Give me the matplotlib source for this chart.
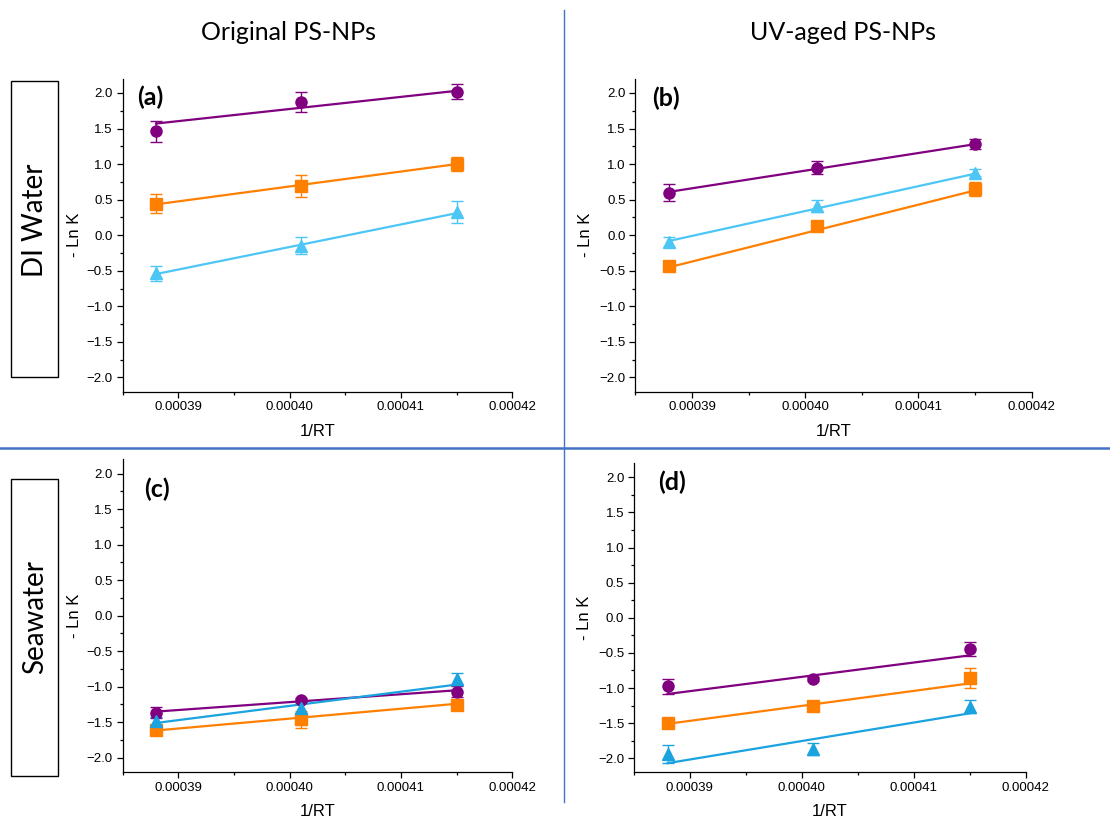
import matplotlib
matplotlib.use("Agg")
import matplotlib.pyplot as plt
from matplotlib.patches import Rectangle
from matplotlib.lines import Line2D
from matplotlib.ticker import MultipleLocator, FuncFormatter

plt.rcParams['font.family'] = ['Liberation Sans', 'DejaVu Sans']

# 1/RT values (310, 300, 290 K)
inv_rt = [0.000388, 0.000401, 0.000415]

col_titles = ['Original PS-NPs', 'UV-aged PS-NPs']
row_titles = ['DI Water', 'Seawater']
panel_tags = ['(a)', '(b)', '(c)', '(d)']

# (a) original, DI water
a_purple = [1.46, 1.87, 2.02]
a_purple_err = [0.145, 0.14, 0.10]
a_purple_fit = [1.57, 2.03]
a_orange = [0.443, 0.69, 1.00]
a_orange_err = [0.13, 0.15, 0.10]
a_orange_fit = [0.434, 1.00]
a_cyan = [-0.537, -0.145, 0.33]
a_cyan_err = [0.10, 0.12, 0.155]
a_cyan_fit = [-0.546, 0.31]

# (b) UV-aged, DI water
b_purple = [0.60, 0.95, 1.28]
b_purple_err = [0.12, 0.09, 0.07]
b_purple_fit = [0.61, 1.28]
b_orange = [-0.43, 0.13, 0.65]
b_orange_err = [0.03, 0.03, 0.105]
b_orange_fit = [-0.45, 0.63]
b_cyan = [-0.09, 0.41, 0.88]
b_cyan_err = [0.07, 0.08, 0.05]
b_cyan_fit = [-0.08, 0.865]

# (c) original, seawater
c_purple = [-1.363, -1.19, -1.07]
c_purple_err = [0.08, 0.03, 0.08]
c_purple_fit = [-1.35, -1.05]
c_orange = [-1.616, -1.46, -1.255]
c_orange_err = [0.065, 0.12, 0.07]
c_orange_fit = [-1.616, -1.24]
c_cyan = [-1.485, -1.30, -0.89]
c_cyan_err = [0.06, 0.07, 0.085]
c_cyan_fit = [-1.51, -0.97]

# (d) UV-aged, seawater
d_purple = [-0.976, -0.867, -0.45]
d_purple_err = [0.11, 0.03, 0.10]
d_purple_fit = [-1.085, -0.535]
d_orange = [-1.50, -1.256, -0.858]
d_orange_err = [0.066, 0.03, 0.14]
d_orange_fit = [-1.51, -0.934]
d_cyan = [-1.94, -1.867, -1.265]
d_cyan_err = [0.125, 0.09, 0.095]
d_cyan_fit = [-2.07, -1.36]

purple = '#800080'
orange = '#FF7F00'
cyan_light = '#4CC6F5'
cyan_dark = '#1AA3DE'

panels = [
    [(a_purple, a_purple_err, a_purple_fit, purple, 'o', 8),
     (a_orange, a_orange_err, a_orange_fit, orange, 's', 8),
     (a_cyan, a_cyan_err, a_cyan_fit, cyan_light, '^', 9)],
    [(b_purple, b_purple_err, b_purple_fit, purple, 'o', 8),
     (b_orange, b_orange_err, b_orange_fit, orange, 's', 8),
     (b_cyan, b_cyan_err, b_cyan_fit, cyan_light, '^', 9)],
    [(c_purple, c_purple_err, c_purple_fit, purple, 'o', 8),
     (c_orange, c_orange_err, c_orange_fit, orange, 's', 8),
     (c_cyan, c_cyan_err, c_cyan_fit, cyan_dark, '^', 9)],
    [(d_purple, d_purple_err, d_purple_fit, purple, 'o', 8),
     (d_orange, d_orange_err, d_orange_fit, orange, 's', 8),
     (d_cyan, d_cyan_err, d_cyan_fit, cyan_dark, '^', 9)],
]

fig = plt.figure(figsize=(11.1, 8.21), dpi=100)

rects = [[0.1105, 0.5229, 0.351, 0.3812],
         [0.5724, 0.5229, 0.3571, 0.3812],
         [0.1105, 0.0597, 0.351, 0.3808],
         [0.5711, 0.0593, 0.353, 0.3764]]
tag_pos = [(0.072, 0.94), (0.078, 0.939), (0.087, 0.904), (0.0975, 0.9385)]
ylab_x = [-0.105, -0.108, -0.105, -0.108]

for i, series in enumerate(panels):
    ax = fig.add_axes(rects[i])
    for y, err, fit, col, mk, ms in series:
        ax.plot([inv_rt[0], inv_rt[-1]], fit, color=col, lw=1.6, zorder=2)
        ax.errorbar(inv_rt, y, yerr=err, fmt=mk, color=col, ms=ms,
                    capsize=4.5, elinewidth=1, capthick=1, zorder=3)
    ax.set_xlim(0.000385, 0.00042)
    ax.set_ylim(-2.2, 2.2)
    ax.xaxis.set_major_locator(MultipleLocator(1e-5))
    ax.xaxis.set_minor_locator(MultipleLocator(5e-6))
    ax.xaxis.set_major_formatter(FuncFormatter(lambda v, p: f'{v:.5f}'))
    ax.yaxis.set_major_locator(MultipleLocator(0.5))
    ax.yaxis.set_minor_locator(MultipleLocator(0.25))
    for s in ['top', 'right']:
        ax.spines[s].set_visible(False)
    for s in ['left', 'bottom']:
        ax.spines[s].set_linewidth(0.9)
    ax.tick_params(which='major', length=4, width=0.9, labelsize=9.5, pad=3)
    ax.tick_params(which='minor', length=2.5, width=0.9)
    ax.set_xlabel('1/RT', fontsize=12)
    ax.set_ylabel('- Ln K', fontsize=12)
    ax.xaxis.set_label_coords(0.5, -0.103)
    ax.yaxis.set_label_coords(ylab_x[i], 0.5)
    ax.text(tag_pos[i][0], tag_pos[i][1], panel_tags[i], transform=ax.transAxes,
            ha='center', va='center', fontsize=18, fontweight='bold', family='Lato')

# column headings
fig.text(0.2598, 0.961, col_titles[0], ha='center', va='center', fontsize=18, family='Lato')
fig.text(0.7595, 0.961, col_titles[1], ha='center', va='center', fontsize=18, family='Lato')

# row labels in boxes
fig.patches.append(Rectangle((0.0103, 0.5404), 0.0422, 0.3609, transform=fig.transFigure,
                             fill=False, edgecolor='black', lw=1))
fig.patches.append(Rectangle((0.0103, 0.0552), 0.0422, 0.3610, transform=fig.transFigure,
                             fill=False, edgecolor='black', lw=1))
fig.text(0.0315, 0.732, row_titles[0], rotation=90, ha='center', va='center', fontsize=20, family='Lato')
fig.text(0.0315, 0.2489, row_titles[1], rotation=90, ha='center', va='center', fontsize=20, family='Lato')

# divider lines
fig.lines.append(Line2D([0.5081, 0.5081], [0.0232, 0.9878], transform=fig.transFigure,
                        color='#4472C4', lw=1.0))
fig.lines.append(Line2D([0.0, 1.0], [0.4549, 0.4549], transform=fig.transFigure,
                        color='#4472C4', lw=1.8))

fig.savefig('out.png', dpi=100)
